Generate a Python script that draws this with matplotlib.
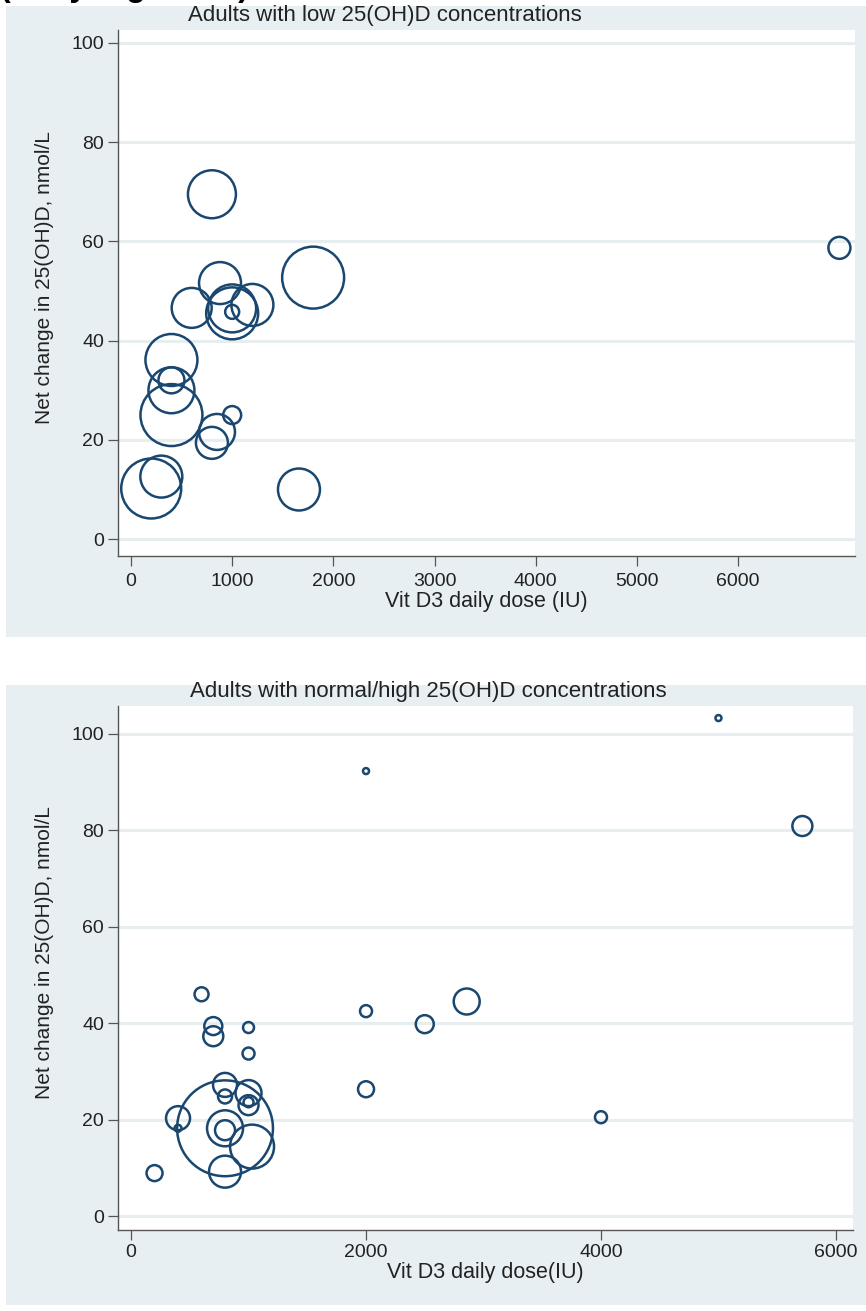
import matplotlib
matplotlib.use("Agg")
import matplotlib.pyplot as plt
from matplotlib import font_manager
from matplotlib.patches import Rectangle

# study-level results: daily vitamin D3 dose, net change in 25(OH)D, study weight
low_dose = [800, 1800, 880, 600, 1000, 1000, 1200, 1000, 400, 400, 400, 400,
            1000, 850, 800, 200, 300, 1660, 7000]
low_change = [69.5, 52.7, 51.6, 46.6, 45.5, 46.5, 47.2, 45.8, 36.1, 30.0, 32.0, 25.0,
              25.0, 21.6, 19.4, 10.2, 12.6, 10.0, 58.7]
low_weight = [57.6, 96.1, 44.1, 40.0, 67.6, 57.6, 44.1, 4.9, 67.6, 52.9, 16.9, 96.1,
              8.1, 32.4, 25.6, 90.0, 44.1, 44.1, 12.1]

norm_dose = [600, 700, 700, 1000, 1000, 2000, 2500, 2857, 2000, 200, 400, 400,
             800, 800, 800, 800, 800, 800, 1000, 1000, 1000, 1030, 4000, 5000,
             2000, 5714]
norm_change = [46.0, 39.4, 37.3, 39.1, 33.7, 42.5, 39.8, 44.5, 26.3, 8.9, 20.3, 18.2,
               18.2, 18.2, 17.8, 9.2, 27.2, 24.8, 25.5, 23.0, 23.6, 14.4, 20.5, 103.3,
               92.3, 80.9]
norm_weight = [4.9, 8.1, 10.0, 3.0, 3.6, 3.6, 8.1, 16.9, 6.4, 6.4, 14.4, 1.2,
               230.0, 32.4, 10.0, 25.6, 14.4, 4.9, 16.9, 10.0, 2.5, 48.4, 3.6, 0.9,
               0.9, 10.0]

y_ticks = [0, 20, 40, 60, 80, 100]
low_xticks = [0, 1000, 2000, 3000, 4000, 5000, 6000]
norm_xticks = [0, 2000, 4000, 6000]

names = {f.name for f in font_manager.fontManager.ttflist}
font = "Liberation Sans Narrow" if "Liberation Sans Narrow" in names else "Liberation Sans"
plt.rcParams["font.family"] = font

NAVY = "#1a476f"
BG = "#e8eff2"
GRID = "#e6eef0"

W, H = 866, 1311
fig = plt.figure(figsize=(W / 100, H / 100), dpi=100)
fig.patch.set_facecolor("white")


def px_box(left, top, right, bottom):
    return [left / W, 1 - bottom / H, (right - left) / W, (bottom - top) / H]


# light graph-region panels behind each plot
for top, bottom in [(6, 637), (685, 1305)]:
    fig.patches.append(Rectangle((6 / W, 1 - bottom / H), (W - 6) / W, (bottom - top) / H,
                                 transform=fig.transFigure, facecolor=BG,
                                 edgecolor="none", zorder=-5))

# heading above the first panel, mostly outside the page
fig.text(0.0, 1 + 4 / H, "(Daily regimens)", fontsize=23, fontweight="bold",
         family="Liberation Sans", ha="left", va="baseline", color="black")


def bubble_panel(box, dose, change, weight, xticks, xlim, ylim, title, xlabel,
                 title_x, xpad):
    ax = fig.add_axes(box)
    ax.set_facecolor("white")
    # marker area proportional to study weight
    sizes = [w * 20.7 for w in weight]
    ax.scatter(dose, change, s=sizes, facecolors="none", edgecolors=NAVY,
               linewidths=1.8, zorder=3, clip_on=False)
    ax.set_xlim(*xlim)
    ax.set_ylim(*ylim)
    ax.set_xticks(xticks)
    ax.set_yticks(y_ticks)
    for y in y_ticks:
        ax.axhline(y, color=GRID, lw=2.2, zorder=1)
    for side in ["top", "right"]:
        ax.spines[side].set_visible(False)
    for side in ["left", "bottom"]:
        ax.spines[side].set_color("#555555")
        ax.spines[side].set_linewidth(1.0)
    ax.tick_params(axis="both", length=7, width=0.9, color="#555555",
                   labelsize=14, labelcolor="#222222", pad=3)
    ax.tick_params(axis="x", pad=xpad)
    ax.set_xlabel(xlabel, fontsize=15.5, color="#222222", labelpad=1)
    ax.set_ylabel("Net change in 25(OH)D, nmol/L", fontsize=15, color="#222222")
    ax.yaxis.set_label_coords(-0.087, 0.53)
    fig.text(title_x / W, box[1] + box[3] + 4 / H, title, fontsize=16,
             color="#222222", ha="center", va="bottom")
    return ax


bubble_panel(px_box(118, 30, 855, 556), low_dose, low_change, low_weight,
             low_xticks, (-128, 7154), (-3.4, 102.6),
             "Adults with low 25(OH)D concentrations", "Vit D3 daily dose (IU)", 385, 5)

bubble_panel(px_box(118, 706, 853, 1230), norm_dose, norm_change, norm_weight,
             norm_xticks, (-111, 6145), (-2.9, 105.8),
             "Adults with normal/high 25(OH)D concentrations", "Vit D3 daily dose(IU)", 428, 3)

fig.savefig("out.png", dpi=100)
